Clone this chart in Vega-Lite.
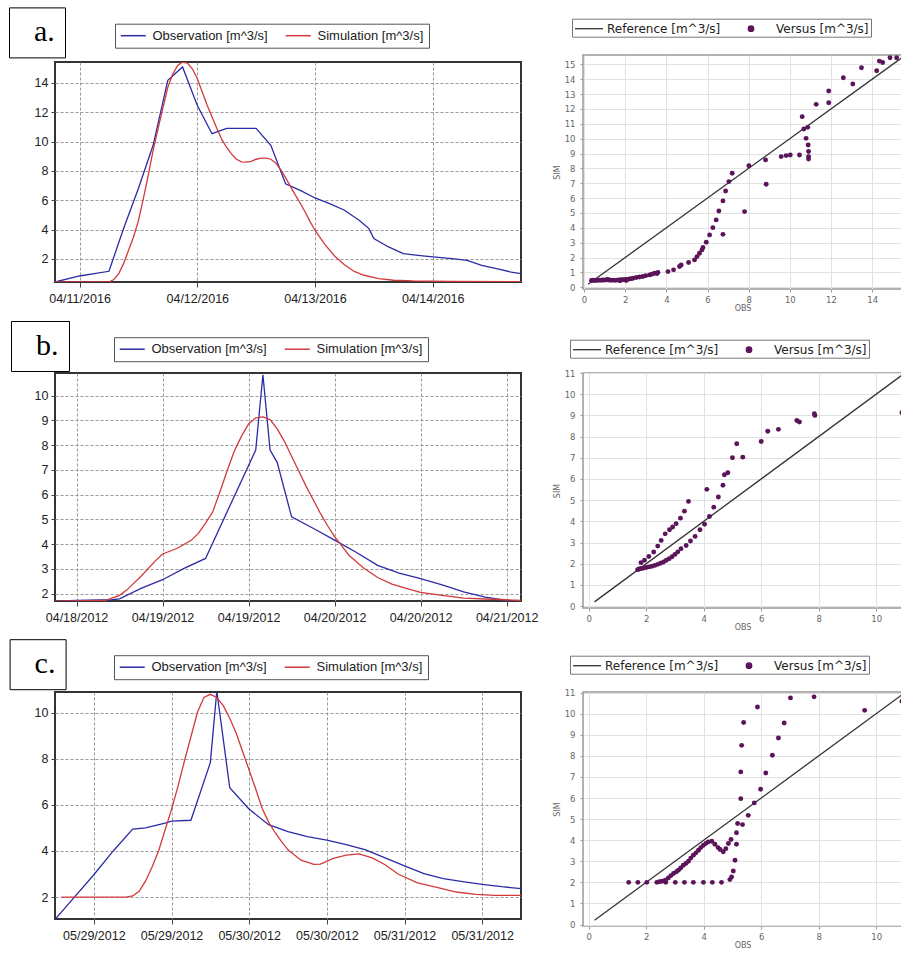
{
"$schema": "https://vega.github.io/schema/vega-lite/v6.json",
"autosize": {"type": "pad"},
"padding": {"left": 7, "top": 5, "right": 0, "bottom": 0},
"background": "white",
"config": {"view": {"stroke": null}, "font": "DejaVu Sans"},
"datasets": {
"ts_a": [
{"t":"2016-04-10T19:00","series":"Observation [m^3/s]","q":0.43},
{"t":"2016-04-11T00:00","series":"Observation [m^3/s]","q":0.84},
{"t":"2016-04-11T03:00","series":"Observation [m^3/s]","q":1.0},
{"t":"2016-04-11T06:00","series":"Observation [m^3/s]","q":1.16},
{"t":"2016-04-11T09:00","series":"Observation [m^3/s]","q":4.1},
{"t":"2016-04-11T12:00","series":"Observation [m^3/s]","q":6.8},
{"t":"2016-04-11T15:00","series":"Observation [m^3/s]","q":9.75},
{"t":"2016-04-11T18:00","series":"Observation [m^3/s]","q":14.18},
{"t":"2016-04-11T21:00","series":"Observation [m^3/s]","q":15.09},
{"t":"2016-04-12T00:00","series":"Observation [m^3/s]","q":12.48},
{"t":"2016-04-12T03:00","series":"Observation [m^3/s]","q":10.54},
{"t":"2016-04-12T06:00","series":"Observation [m^3/s]","q":10.9},
{"t":"2016-04-12T12:00","series":"Observation [m^3/s]","q":10.9},
{"t":"2016-04-12T15:00","series":"Observation [m^3/s]","q":9.75},
{"t":"2016-04-12T18:00","series":"Observation [m^3/s]","q":7.13},
{"t":"2016-04-12T21:00","series":"Observation [m^3/s]","q":6.68},
{"t":"2016-04-13T00:00","series":"Observation [m^3/s]","q":6.16},
{"t":"2016-04-13T03:00","series":"Observation [m^3/s]","q":5.77},
{"t":"2016-04-13T06:00","series":"Observation [m^3/s]","q":5.32},
{"t":"2016-04-13T09:00","series":"Observation [m^3/s]","q":4.64},
{"t":"2016-04-13T11:00","series":"Observation [m^3/s]","q":4.07},
{"t":"2016-04-13T12:00","series":"Observation [m^3/s]","q":3.39},
{"t":"2016-04-13T15:00","series":"Observation [m^3/s]","q":2.82},
{"t":"2016-04-13T18:00","series":"Observation [m^3/s]","q":2.36},
{"t":"2016-04-13T21:00","series":"Observation [m^3/s]","q":2.25},
{"t":"2016-04-14T00:00","series":"Observation [m^3/s]","q":2.14},
{"t":"2016-04-14T04:00","series":"Observation [m^3/s]","q":2.02},
{"t":"2016-04-14T07:00","series":"Observation [m^3/s]","q":1.91},
{"t":"2016-04-14T10:00","series":"Observation [m^3/s]","q":1.57},
{"t":"2016-04-14T13:00","series":"Observation [m^3/s]","q":1.34},
{"t":"2016-04-14T16:00","series":"Observation [m^3/s]","q":1.11},
{"t":"2016-04-14T18:00","series":"Observation [m^3/s]","q":1.0},
{"t":"2016-04-10T19:00","series":"Simulation [m^3/s]","q":0.43},
{"t":"2016-04-11T06:00","series":"Simulation [m^3/s]","q":0.43},
{"t":"2016-04-11T07:00","series":"Simulation [m^3/s]","q":0.6},
{"t":"2016-04-11T08:00","series":"Simulation [m^3/s]","q":1.0},
{"t":"2016-04-11T09:00","series":"Simulation [m^3/s]","q":1.7},
{"t":"2016-04-11T10:00","series":"Simulation [m^3/s]","q":2.6},
{"t":"2016-04-11T11:00","series":"Simulation [m^3/s]","q":3.5},
{"t":"2016-04-11T12:00","series":"Simulation [m^3/s]","q":4.6},
{"t":"2016-04-11T13:00","series":"Simulation [m^3/s]","q":6.1},
{"t":"2016-04-11T14:00","series":"Simulation [m^3/s]","q":7.7},
{"t":"2016-04-11T15:00","series":"Simulation [m^3/s]","q":9.4},
{"t":"2016-04-11T16:00","series":"Simulation [m^3/s]","q":10.88},
{"t":"2016-04-11T17:00","series":"Simulation [m^3/s]","q":12.3},
{"t":"2016-04-11T18:00","series":"Simulation [m^3/s]","q":13.7},
{"t":"2016-04-11T19:00","series":"Simulation [m^3/s]","q":14.6},
{"t":"2016-04-11T20:00","series":"Simulation [m^3/s]","q":15.2},
{"t":"2016-04-11T21:00","series":"Simulation [m^3/s]","q":15.43},
{"t":"2016-04-11T22:00","series":"Simulation [m^3/s]","q":15.35},
{"t":"2016-04-11T23:00","series":"Simulation [m^3/s]","q":14.97},
{"t":"2016-04-12T00:00","series":"Simulation [m^3/s]","q":14.3},
{"t":"2016-04-12T01:00","series":"Simulation [m^3/s]","q":13.4},
{"t":"2016-04-12T02:00","series":"Simulation [m^3/s]","q":12.5},
{"t":"2016-04-12T03:00","series":"Simulation [m^3/s]","q":11.7},
{"t":"2016-04-12T04:00","series":"Simulation [m^3/s]","q":10.9},
{"t":"2016-04-12T05:00","series":"Simulation [m^3/s]","q":10.15},
{"t":"2016-04-12T06:00","series":"Simulation [m^3/s]","q":9.6},
{"t":"2016-04-12T07:00","series":"Simulation [m^3/s]","q":9.15},
{"t":"2016-04-12T08:00","series":"Simulation [m^3/s]","q":8.8},
{"t":"2016-04-12T09:00","series":"Simulation [m^3/s]","q":8.62},
{"t":"2016-04-12T10:00","series":"Simulation [m^3/s]","q":8.6},
{"t":"2016-04-12T11:00","series":"Simulation [m^3/s]","q":8.65},
{"t":"2016-04-12T12:00","series":"Simulation [m^3/s]","q":8.8},
{"t":"2016-04-12T13:00","series":"Simulation [m^3/s]","q":8.87},
{"t":"2016-04-12T14:00","series":"Simulation [m^3/s]","q":8.88},
{"t":"2016-04-12T15:00","series":"Simulation [m^3/s]","q":8.8},
{"t":"2016-04-12T16:00","series":"Simulation [m^3/s]","q":8.55},
{"t":"2016-04-12T17:00","series":"Simulation [m^3/s]","q":8.1},
{"t":"2016-04-12T18:00","series":"Simulation [m^3/s]","q":7.55},
{"t":"2016-04-12T19:00","series":"Simulation [m^3/s]","q":6.95},
{"t":"2016-04-12T20:00","series":"Simulation [m^3/s]","q":6.35},
{"t":"2016-04-12T21:00","series":"Simulation [m^3/s]","q":5.8},
{"t":"2016-04-12T22:00","series":"Simulation [m^3/s]","q":5.2},
{"t":"2016-04-12T23:00","series":"Simulation [m^3/s]","q":4.55},
{"t":"2016-04-13T00:00","series":"Simulation [m^3/s]","q":3.96},
{"t":"2016-04-13T02:00","series":"Simulation [m^3/s]","q":3.0},
{"t":"2016-04-13T04:00","series":"Simulation [m^3/s]","q":2.2},
{"t":"2016-04-13T06:00","series":"Simulation [m^3/s]","q":1.6},
{"t":"2016-04-13T08:00","series":"Simulation [m^3/s]","q":1.15},
{"t":"2016-04-13T10:00","series":"Simulation [m^3/s]","q":0.89},
{"t":"2016-04-13T13:00","series":"Simulation [m^3/s]","q":0.66},
{"t":"2016-04-13T16:00","series":"Simulation [m^3/s]","q":0.55},
{"t":"2016-04-13T20:00","series":"Simulation [m^3/s]","q":0.5},
{"t":"2016-04-14T04:00","series":"Simulation [m^3/s]","q":0.47},
{"t":"2016-04-14T18:00","series":"Simulation [m^3/s]","q":0.45}
],
"ts_b": [
{"t":"2012-04-18T09:00","series":"Observation [m^3/s]","q":1.69},
{"t":"2012-04-18T12:00","series":"Observation [m^3/s]","q":1.72},
{"t":"2012-04-18T17:00","series":"Observation [m^3/s]","q":1.75},
{"t":"2012-04-18T18:00","series":"Observation [m^3/s]","q":1.79},
{"t":"2012-04-18T21:00","series":"Observation [m^3/s]","q":2.21},
{"t":"2012-04-19T00:00","series":"Observation [m^3/s]","q":2.56},
{"t":"2012-04-19T03:00","series":"Observation [m^3/s]","q":3.02},
{"t":"2012-04-19T06:00","series":"Observation [m^3/s]","q":3.42},
{"t":"2012-04-19T13:00","series":"Observation [m^3/s]","q":7.8},
{"t":"2012-04-19T14:00","series":"Observation [m^3/s]","q":10.84},
{"t":"2012-04-19T15:00","series":"Observation [m^3/s]","q":7.8},
{"t":"2012-04-19T16:00","series":"Observation [m^3/s]","q":7.29},
{"t":"2012-04-19T18:00","series":"Observation [m^3/s]","q":5.1},
{"t":"2012-04-19T21:00","series":"Observation [m^3/s]","q":4.64},
{"t":"2012-04-20T00:00","series":"Observation [m^3/s]","q":4.16},
{"t":"2012-04-20T03:00","series":"Observation [m^3/s]","q":3.67},
{"t":"2012-04-20T06:00","series":"Observation [m^3/s]","q":3.14},
{"t":"2012-04-20T09:00","series":"Observation [m^3/s]","q":2.83},
{"t":"2012-04-20T12:00","series":"Observation [m^3/s]","q":2.6},
{"t":"2012-04-20T15:00","series":"Observation [m^3/s]","q":2.35},
{"t":"2012-04-20T18:00","series":"Observation [m^3/s]","q":2.07},
{"t":"2012-04-20T21:00","series":"Observation [m^3/s]","q":1.86},
{"t":"2012-04-21T00:00","series":"Observation [m^3/s]","q":1.72},
{"t":"2012-04-21T02:00","series":"Observation [m^3/s]","q":1.69},
{"t":"2012-04-18T09:00","series":"Simulation [m^3/s]","q":1.69},
{"t":"2012-04-18T16:00","series":"Simulation [m^3/s]","q":1.72},
{"t":"2012-04-18T18:00","series":"Simulation [m^3/s]","q":1.93},
{"t":"2012-04-18T19:00","series":"Simulation [m^3/s]","q":2.14},
{"t":"2012-04-18T21:00","series":"Simulation [m^3/s]","q":2.7},
{"t":"2012-04-18T23:00","series":"Simulation [m^3/s]","q":3.32},
{"t":"2012-04-19T00:00","series":"Simulation [m^3/s]","q":3.6},
{"t":"2012-04-19T02:00","series":"Simulation [m^3/s]","q":3.82},
{"t":"2012-04-19T04:00","series":"Simulation [m^3/s]","q":4.15},
{"t":"2012-04-19T05:00","series":"Simulation [m^3/s]","q":4.43},
{"t":"2012-04-19T06:00","series":"Simulation [m^3/s]","q":4.85},
{"t":"2012-04-19T07:00","series":"Simulation [m^3/s]","q":5.3},
{"t":"2012-04-19T08:00","series":"Simulation [m^3/s]","q":6.1},
{"t":"2012-04-19T09:00","series":"Simulation [m^3/s]","q":6.95},
{"t":"2012-04-19T10:00","series":"Simulation [m^3/s]","q":7.75},
{"t":"2012-04-19T11:00","series":"Simulation [m^3/s]","q":8.35},
{"t":"2012-04-19T12:00","series":"Simulation [m^3/s]","q":8.85},
{"t":"2012-04-19T13:00","series":"Simulation [m^3/s]","q":9.1},
{"t":"2012-04-19T14:00","series":"Simulation [m^3/s]","q":9.14},
{"t":"2012-04-19T15:00","series":"Simulation [m^3/s]","q":9.03},
{"t":"2012-04-19T16:00","series":"Simulation [m^3/s]","q":8.65},
{"t":"2012-04-19T17:00","series":"Simulation [m^3/s]","q":8.15},
{"t":"2012-04-19T18:00","series":"Simulation [m^3/s]","q":7.55},
{"t":"2012-04-19T19:00","series":"Simulation [m^3/s]","q":6.95},
{"t":"2012-04-19T20:00","series":"Simulation [m^3/s]","q":6.35},
{"t":"2012-04-19T21:00","series":"Simulation [m^3/s]","q":5.8},
{"t":"2012-04-19T22:00","series":"Simulation [m^3/s]","q":5.25},
{"t":"2012-04-19T23:00","series":"Simulation [m^3/s]","q":4.75},
{"t":"2012-04-20T00:00","series":"Simulation [m^3/s]","q":4.3},
{"t":"2012-04-20T02:00","series":"Simulation [m^3/s]","q":3.55},
{"t":"2012-04-20T04:00","series":"Simulation [m^3/s]","q":3.04},
{"t":"2012-04-20T06:00","series":"Simulation [m^3/s]","q":2.65},
{"t":"2012-04-20T08:00","series":"Simulation [m^3/s]","q":2.38},
{"t":"2012-04-20T10:00","series":"Simulation [m^3/s]","q":2.21},
{"t":"2012-04-20T12:00","series":"Simulation [m^3/s]","q":2.05},
{"t":"2012-04-20T15:00","series":"Simulation [m^3/s]","q":1.93},
{"t":"2012-04-20T18:00","series":"Simulation [m^3/s]","q":1.82},
{"t":"2012-04-20T21:00","series":"Simulation [m^3/s]","q":1.78},
{"t":"2012-04-21T00:00","series":"Simulation [m^3/s]","q":1.75},
{"t":"2012-04-21T02:00","series":"Simulation [m^3/s]","q":1.72}
],
"ts_c": [
{"t":"2012-05-28T18:00","series":"Observation [m^3/s]","q":1.03},
{"t":"2012-05-28T21:00","series":"Observation [m^3/s]","q":2.0},
{"t":"2012-05-29T00:00","series":"Observation [m^3/s]","q":2.97},
{"t":"2012-05-29T03:00","series":"Observation [m^3/s]","q":4.0},
{"t":"2012-05-29T06:00","series":"Observation [m^3/s]","q":4.95},
{"t":"2012-05-29T08:00","series":"Observation [m^3/s]","q":5.0},
{"t":"2012-05-29T11:00","series":"Observation [m^3/s]","q":5.21},
{"t":"2012-05-29T12:00","series":"Observation [m^3/s]","q":5.29},
{"t":"2012-05-29T15:00","series":"Observation [m^3/s]","q":5.33},
{"t":"2012-05-29T18:00","series":"Observation [m^3/s]","q":7.83},
{"t":"2012-05-29T19:00","series":"Observation [m^3/s]","q":10.93},
{"t":"2012-05-29T21:00","series":"Observation [m^3/s]","q":6.74},
{"t":"2012-05-30T00:00","series":"Observation [m^3/s]","q":5.81},
{"t":"2012-05-30T03:00","series":"Observation [m^3/s]","q":5.14},
{"t":"2012-05-30T06:00","series":"Observation [m^3/s]","q":4.84},
{"t":"2012-05-30T09:00","series":"Observation [m^3/s]","q":4.62},
{"t":"2012-05-30T12:00","series":"Observation [m^3/s]","q":4.47},
{"t":"2012-05-30T15:00","series":"Observation [m^3/s]","q":4.27},
{"t":"2012-05-30T18:00","series":"Observation [m^3/s]","q":4.05},
{"t":"2012-05-30T21:00","series":"Observation [m^3/s]","q":3.7},
{"t":"2012-05-31T00:00","series":"Observation [m^3/s]","q":3.35},
{"t":"2012-05-31T03:00","series":"Observation [m^3/s]","q":3.02},
{"t":"2012-05-31T06:00","series":"Observation [m^3/s]","q":2.8},
{"t":"2012-05-31T09:00","series":"Observation [m^3/s]","q":2.67},
{"t":"2012-05-31T12:00","series":"Observation [m^3/s]","q":2.55},
{"t":"2012-05-31T15:00","series":"Observation [m^3/s]","q":2.45},
{"t":"2012-05-31T18:00","series":"Observation [m^3/s]","q":2.37},
{"t":"2012-05-28T19:00","series":"Simulation [m^3/s]","q":2.0},
{"t":"2012-05-29T05:00","series":"Simulation [m^3/s]","q":2.0},
{"t":"2012-05-29T06:00","series":"Simulation [m^3/s]","q":2.05},
{"t":"2012-05-29T07:00","series":"Simulation [m^3/s]","q":2.25},
{"t":"2012-05-29T08:00","series":"Simulation [m^3/s]","q":2.7},
{"t":"2012-05-29T09:00","series":"Simulation [m^3/s]","q":3.3},
{"t":"2012-05-29T10:00","series":"Simulation [m^3/s]","q":4.0},
{"t":"2012-05-29T11:00","series":"Simulation [m^3/s]","q":4.9},
{"t":"2012-05-29T12:00","series":"Simulation [m^3/s]","q":5.8},
{"t":"2012-05-29T13:00","series":"Simulation [m^3/s]","q":6.8},
{"t":"2012-05-29T14:00","series":"Simulation [m^3/s]","q":7.9},
{"t":"2012-05-29T15:00","series":"Simulation [m^3/s]","q":8.95},
{"t":"2012-05-29T16:00","series":"Simulation [m^3/s]","q":10.0},
{"t":"2012-05-29T17:00","series":"Simulation [m^3/s]","q":10.65},
{"t":"2012-05-29T18:00","series":"Simulation [m^3/s]","q":10.79},
{"t":"2012-05-29T19:00","series":"Simulation [m^3/s]","q":10.65},
{"t":"2012-05-29T20:00","series":"Simulation [m^3/s]","q":10.3},
{"t":"2012-05-29T21:00","series":"Simulation [m^3/s]","q":9.75},
{"t":"2012-05-29T22:00","series":"Simulation [m^3/s]","q":9.1},
{"t":"2012-05-29T23:00","series":"Simulation [m^3/s]","q":8.3},
{"t":"2012-05-30T00:00","series":"Simulation [m^3/s]","q":7.5},
{"t":"2012-05-30T01:00","series":"Simulation [m^3/s]","q":6.7},
{"t":"2012-05-30T02:00","series":"Simulation [m^3/s]","q":5.85},
{"t":"2012-05-30T03:00","series":"Simulation [m^3/s]","q":5.25},
{"t":"2012-05-30T04:00","series":"Simulation [m^3/s]","q":4.8},
{"t":"2012-05-30T05:00","series":"Simulation [m^3/s]","q":4.4},
{"t":"2012-05-30T06:00","series":"Simulation [m^3/s]","q":4.05},
{"t":"2012-05-30T08:00","series":"Simulation [m^3/s]","q":3.6},
{"t":"2012-05-30T10:00","series":"Simulation [m^3/s]","q":3.42},
{"t":"2012-05-30T11:00","series":"Simulation [m^3/s]","q":3.43},
{"t":"2012-05-30T13:00","series":"Simulation [m^3/s]","q":3.68},
{"t":"2012-05-30T15:00","series":"Simulation [m^3/s]","q":3.82},
{"t":"2012-05-30T17:00","series":"Simulation [m^3/s]","q":3.87},
{"t":"2012-05-30T19:00","series":"Simulation [m^3/s]","q":3.7},
{"t":"2012-05-30T21:00","series":"Simulation [m^3/s]","q":3.4},
{"t":"2012-05-30T23:00","series":"Simulation [m^3/s]","q":3.0},
{"t":"2012-05-31T02:00","series":"Simulation [m^3/s]","q":2.62},
{"t":"2012-05-31T05:00","series":"Simulation [m^3/s]","q":2.42},
{"t":"2012-05-31T08:00","series":"Simulation [m^3/s]","q":2.22},
{"t":"2012-05-31T11:00","series":"Simulation [m^3/s]","q":2.12},
{"t":"2012-05-31T14:00","series":"Simulation [m^3/s]","q":2.07},
{"t":"2012-05-31T18:00","series":"Simulation [m^3/s]","q":2.07}
],
"sc_a": [
{"obs":0.36,"sim":0.45},{"obs":0.42,"sim":0.47},{"obs":0.5,"sim":0.45},{"obs":0.58,"sim":0.47},{"obs":0.66,"sim":0.46},{"obs":0.75,"sim":0.48},{"obs":0.84,"sim":0.47},{"obs":0.93,"sim":0.49},{"obs":1.02,"sim":0.48},{"obs":1.1,"sim":0.5},{"obs":1.15,"sim":0.52},{"obs":1.2,"sim":0.49},{"obs":1.3,"sim":0.47},{"obs":1.4,"sim":0.48},{"obs":1.5,"sim":0.46},{"obs":1.6,"sim":0.48},{"obs":1.7,"sim":0.49},{"obs":1.75,"sim":0.44},{"obs":1.8,"sim":0.5},{"obs":1.9,"sim":0.5},{"obs":2.0,"sim":0.52},{"obs":2.05,"sim":0.45},{"obs":2.1,"sim":0.53},{"obs":2.2,"sim":0.55},{"obs":2.3,"sim":0.58},{"obs":2.38,"sim":0.6},
{"obs":2.54,"sim":0.65},{"obs":2.7,"sim":0.69},{"obs":2.86,"sim":0.72},{"obs":3.0,"sim":0.78},{"obs":3.19,"sim":0.83},{"obs":3.3,"sim":0.88},{"obs":3.43,"sim":0.94},{"obs":3.59,"sim":1.0},{"obs":3.55,"sim":0.92},
{"obs":4.08,"sim":1.05},{"obs":4.35,"sim":1.17},{"obs":4.64,"sim":1.39},{"obs":4.72,"sim":1.5},{"obs":5.08,"sim":1.66},{"obs":5.37,"sim":1.84},{"obs":5.49,"sim":2.06},{"obs":5.61,"sim":2.29},{"obs":5.73,"sim":2.51},{"obs":5.78,"sim":2.67},{"obs":5.94,"sim":3.03},{"obs":6.1,"sim":3.52},{"obs":6.26,"sim":4.01},{"obs":6.42,"sim":4.53},{"obs":6.55,"sim":5.13},{"obs":6.75,"sim":5.81},{"obs":6.88,"sim":6.48},{"obs":7.04,"sim":7.11},{"obs":7.2,"sim":7.67},{"obs":6.75,"sim":3.56},{"obs":7.8,"sim":5.09},{"obs":8.01,"sim":8.18},{"obs":8.82,"sim":8.57},{"obs":8.85,"sim":6.93},{"obs":9.58,"sim":8.79},{"obs":9.82,"sim":8.86},{"obs":10.02,"sim":8.9},{"obs":10.47,"sim":8.9},{"obs":10.6,"sim":11.48},{"obs":10.68,"sim":10.65},{"obs":10.79,"sim":10.02},{"obs":10.87,"sim":10.76},{"obs":10.89,"sim":9.57},{"obs":10.91,"sim":9.13},{"obs":10.91,"sim":8.79},{"obs":10.91,"sim":8.63},{"obs":11.28,"sim":12.31},{"obs":11.89,"sim":13.21},{"obs":11.89,"sim":12.42},{"obs":12.6,"sim":14.1},{"obs":13.06,"sim":13.68},{"obs":13.48,"sim":14.77},{"obs":14.22,"sim":14.57},{"obs":14.35,"sim":15.22},{"obs":14.51,"sim":15.13},{"obs":14.87,"sim":15.44},{"obs":15.19,"sim":15.44}
],
"sc_b": [
{"obs":1.7,"sim":1.72},{"obs":1.75,"sim":1.75},{"obs":1.8,"sim":1.77},{"obs":1.85,"sim":1.78},{"obs":1.9,"sim":1.79},{"obs":2.0,"sim":1.82},{"obs":2.1,"sim":1.85},{"obs":2.2,"sim":1.88},{"obs":2.3,"sim":1.92},{"obs":2.4,"sim":1.97},{"obs":2.5,"sim":2.02},{"obs":2.6,"sim":2.08},{"obs":2.7,"sim":2.16},{"obs":2.8,"sim":2.24},{"obs":2.9,"sim":2.33},{"obs":3.0,"sim":2.44},{"obs":3.1,"sim":2.56},{"obs":3.21,"sim":2.71},{"obs":3.39,"sim":2.86},{"obs":3.54,"sim":3.07},{"obs":3.7,"sim":3.29},{"obs":3.87,"sim":3.6},{"obs":4.03,"sim":3.86},{"obs":4.2,"sim":4.23},{"obs":4.35,"sim":4.67},{"obs":4.51,"sim":5.15},{"obs":4.67,"sim":5.7},{"obs":4.72,"sim":6.2},{"obs":4.84,"sim":6.29},{"obs":5.0,"sim":7.0},{"obs":5.15,"sim":7.66},{"obs":5.36,"sim":7.03},{"obs":6.0,"sim":7.77},{"obs":6.23,"sim":8.25},{"obs":6.6,"sim":8.34},{"obs":7.24,"sim":8.76},{"obs":7.33,"sim":8.69},{"obs":7.85,"sim":9.08},{"obs":7.87,"sim":9.0},{"obs":10.9,"sim":9.13},
{"obs":1.82,"sim":2.05},{"obs":1.94,"sim":2.16},{"obs":2.09,"sim":2.34},{"obs":2.26,"sim":2.55},{"obs":2.4,"sim":2.83},{"obs":2.52,"sim":3.1},{"obs":2.66,"sim":3.41},{"obs":2.81,"sim":3.6},{"obs":2.92,"sim":3.73},{"obs":3.04,"sim":3.89},{"obs":3.19,"sim":4.15},{"obs":3.33,"sim":4.48},{"obs":3.47,"sim":4.94},{"obs":4.11,"sim":5.51}
],
"sc_c": [
{"obs":1.39,"sim":2.0},{"obs":1.71,"sim":2.0},{"obs":2.02,"sim":2.0},{"obs":2.37,"sim":2.0},{"obs":2.68,"sim":2.0},{"obs":3.01,"sim":2.0},{"obs":3.33,"sim":2.0},{"obs":3.64,"sim":2.0},{"obs":3.99,"sim":2.0},{"obs":4.3,"sim":2.0},{"obs":4.62,"sim":2.0},
{"obs":2.45,"sim":2.03},{"obs":2.55,"sim":2.05},{"obs":2.66,"sim":2.1},{"obs":2.77,"sim":2.21},{"obs":2.86,"sim":2.32},{"obs":2.95,"sim":2.42},{"obs":3.05,"sim":2.5},{"obs":3.12,"sim":2.58},{"obs":3.2,"sim":2.68},{"obs":3.29,"sim":2.81},{"obs":3.38,"sim":2.9},{"obs":3.47,"sim":3.0},{"obs":3.55,"sim":3.15},{"obs":3.64,"sim":3.29},{"obs":3.73,"sim":3.4},{"obs":3.82,"sim":3.52},{"obs":3.9,"sim":3.65},{"obs":3.99,"sim":3.76},{"obs":4.08,"sim":3.85},{"obs":4.16,"sim":3.92},{"obs":4.28,"sim":3.95},{"obs":4.39,"sim":3.81},{"obs":4.5,"sim":3.65},{"obs":4.57,"sim":3.56},{"obs":4.68,"sim":3.45},{"obs":4.77,"sim":3.6},{"obs":4.86,"sim":3.84},
{"obs":4.91,"sim":2.13},{"obs":4.97,"sim":2.26},{"obs":5.03,"sim":2.54},{"obs":5.09,"sim":3.05},{"obs":5.14,"sim":3.81},{"obs":5.14,"sim":4.35},{"obs":5.18,"sim":4.79},{"obs":5.35,"sim":4.74},{"obs":4.95,"sim":4.03},{"obs":5.29,"sim":5.97},{"obs":5.29,"sim":7.24},{"obs":5.32,"sim":8.5},{"obs":5.39,"sim":9.58},{"obs":5.55,"sim":5.18},{"obs":5.76,"sim":5.77},{"obs":5.98,"sim":6.42},{"obs":6.16,"sim":7.19},{"obs":6.39,"sim":8.03},{"obs":6.6,"sim":8.85},{"obs":6.8,"sim":9.56},{"obs":5.87,"sim":10.32},{"obs":7.02,"sim":10.75},{"obs":7.84,"sim":10.8},{"obs":9.6,"sim":10.16},{"obs":10.9,"sim":10.59}
],
"ref_a": [{"obs":0.2,"sim":0.2},{"obs":15.8,"sim":15.8}],
"ref_bc": [{"obs":0.2,"sim":0.2},{"obs":11.3,"sim":11.3}]
},
"columns": 2,
"align": "each",
"bounds": "flush",
"center": true,
"spacing": {"row": 84, "column": 62},
"resolve": {"scale": {"color": "independent", "shape": "independent"}, "legend": {"color": "independent", "shape": "independent"}},
"concat": [
{
"width": 466, "height": 220,
"view": {"stroke": "#333333", "strokeWidth": 2},
"layer": [
{
"data": {"name": "ts_a"},
"mark": {"type": "line", "strokeWidth": 1.3, "clip": true},
"encoding": {
"x": {"field": "t", "type": "temporal", "scale": {"domain": [{"year": 2016, "month": 4, "date": 10, "hours": 19}, {"year": 2016, "month": 4, "date": 14, "hours": 18}]},
"axis": {"title": null, "format": "%m/%d/%Y", "values": [{"year": 2016, "month": 4, "date": 11}, {"year": 2016, "month": 4, "date": 12}, {"year": 2016, "month": 4, "date": 13}, {"year": 2016, "month": 4, "date": 14}], "labelFont": "Liberation Sans", "labelFontSize": 12.5, "labelColor": "#222222", "labelPadding": 5, "tickSize": 5, "tickColor": "#444444", "domain": false, "grid": true, "gridColor": "#999999", "gridDash": [3, 2], "labelOverlap": false}},
"y": {"field": "q", "type": "quantitative", "scale": {"domain": [0.43, 15.43], "nice": false, "zero": false},
"axis": {"title": null, "values": [2, 4, 6, 8, 10, 12, 14], "labelFont": "Liberation Sans", "labelFontSize": 12.5, "labelColor": "#222222", "labelPadding": 3, "tickSize": 4, "tickColor": "#444444", "domain": false, "grid": true, "gridColor": "#999999", "gridDash": [3, 2], "labelOverlap": false}},
"color": {"field": "series", "type": "nominal", "scale": {"domain": ["Observation [m^3/s]", "Simulation [m^3/s]"], "range": ["#2b2ba6", "#d23a3a"]},
"legend": {"orient": "none", "legendX": 60, "legendY": -38.3, "direction": "horizontal", "columns": 2, "title": null, "strokeColor": "#555555", "padding": 5, "columnPadding": 14, "labelFont": "Liberation Sans", "labelFontSize": 13, "labelColor": "#222222", "symbolType": "M-1,0H3", "symbolSize": 156, "symbolStrokeWidth": 1.5, "labelOffset": 18.5}}
}
},
{
"data": {"values": [{"panel": "a."}]},
"mark": {"type": "point", "opacity": 0},
"encoding": {"shape": {"field": "panel", "type": "nominal",
"legend": {"orient": "none", "legendX": -46, "legendY": -54.6, "title": null, "strokeColor": "black", "padding": 10, "labelFont": "Liberation Serif", "labelFontSize": 30, "labelColor": "black", "symbolSize": 4, "symbolOpacity": 0, "labelOffset": -15, "labelExpr": "datum.label + '\u00a0\u00a0\u00a0'"}}}
}
]
},
{
"width": 319, "height": 234,
"view": {"stroke": "#999999", "strokeWidth": 1.5},
"layer": [
{
"data": {"name": "ref_a"},
"mark": {"type": "line", "strokeWidth": 1.3, "clip": true},
"encoding": {
"x": {"field": "obs", "type": "quantitative", "scale": {"domain": [-0.05, 15.45], "nice": false, "zero": false},
"axis": {"title": "OBS", "titleFont": "DejaVu Sans", "titleFontSize": 8, "titleFontWeight": "normal", "titleColor": "#666666", "titlePadding": 1, "values": [0, 2, 4, 6, 8, 10, 12, 14], "labelFontSize": 8.5, "labelColor": "#666666", "labelPadding": 3, "tickSize": 3, "tickColor": "#999999", "domain": false, "grid": true, "gridColor": "#e2e2e2", "labelOverlap": false}},
"y": {"field": "sim", "type": "quantitative", "scale": {"domain": [-0.12, 15.63], "nice": false, "zero": false},
"axis": {"title": "SIM", "titleFont": "DejaVu Sans", "titleFontSize": 8, "titleFontWeight": "normal", "titleColor": "#666666", "titlePadding": 3, "values": [0, 1, 2, 3, 4, 5, 6, 7, 8, 9, 10, 11, 12, 13, 14, 15], "labelFontSize": 8.5, "labelColor": "#666666", "labelPadding": 5, "tickSize": 3, "tickColor": "#999999", "domain": false, "grid": true, "gridColor": "#e2e2e2", "labelOverlap": false}},
"color": {"datum": "Reference [m^3/s]", "type": "nominal", "scale": {"domain": ["Reference [m^3/s]", "Versus [m^3/s]"], "range": ["#333333", "#5b1459"]},
"legend": {"orient": "none", "legendX": -11, "legendY": -36.3, "direction": "horizontal", "columns": 2, "title": null, "strokeColor": "#777777", "padding": 2, "columnPadding": 22, "labelFont": "DejaVu Sans", "labelFontSize": 12, "labelColor": "#222222", "symbolType": "M-1,0H3", "symbolSize": 196, "labelOffset": 17,
"encode": {"symbols": {"update": {"shape": {"signal": "datum.value === 'Versus [m^3/s]' ? 'circle' : 'M-1,0H3'"}, "size": {"signal": "datum.value === 'Versus [m^3/s]' ? 30 : 196"}, "fill": {"signal": "datum.value === 'Versus [m^3/s]' ? '#5b1459' : 'transparent'"}, "stroke": {"signal": "datum.value === 'Versus [m^3/s]' ? 'transparent' : '#333333'"}, "strokeWidth": {"value": 1.3}, "opacity": {"value": 1}}}}}}
}
},
{
"data": {"name": "sc_a"},
"mark": {"type": "point", "filled": true, "size": 24, "opacity": 1, "clip": true},
"encoding": {
"x": {"field": "obs", "type": "quantitative",
"axis": {"title": "OBS", "titleFont": "DejaVu Sans", "titleFontSize": 8, "titleFontWeight": "normal", "titleColor": "#666666", "titlePadding": 1, "values": [0, 2, 4, 6, 8, 10, 12, 14], "labelFontSize": 8.5, "labelColor": "#666666", "labelPadding": 3, "tickSize": 3, "tickColor": "#999999", "domain": false, "grid": true, "gridColor": "#e2e2e2", "labelOverlap": false}},
"y": {"field": "sim", "type": "quantitative",
"axis": {"title": "SIM", "titleFont": "DejaVu Sans", "titleFontSize": 8, "titleFontWeight": "normal", "titleColor": "#666666", "titlePadding": 3, "values": [0, 1, 2, 3, 4, 5, 6, 7, 8, 9, 10, 11, 12, 13, 14, 15], "labelFontSize": 8.5, "labelColor": "#666666", "labelPadding": 5, "tickSize": 3, "tickColor": "#999999", "domain": false, "grid": true, "gridColor": "#e2e2e2", "labelOverlap": false}},
"color": {"datum": "Versus [m^3/s]", "type": "nominal"}
}
}
]
},
{
"width": 466, "height": 228,
"view": {"stroke": "#333333", "strokeWidth": 2},
"layer": [
{
"data": {"name": "ts_b"},
"mark": {"type": "line", "strokeWidth": 1.3, "clip": true},
"encoding": {
"x": {"field": "t", "type": "temporal", "scale": {"domain": [{"year": 2012, "month": 4, "date": 18, "hours": 9}, {"year": 2012, "month": 4, "date": 21, "hours": 2}]},
"axis": {"title": null, "format": "%m/%d/%Y", "values": [{"year": 2012, "month": 4, "date": 18, "hours": 12}, {"year": 2012, "month": 4, "date": 19}, {"year": 2012, "month": 4, "date": 19, "hours": 12}, {"year": 2012, "month": 4, "date": 20}, {"year": 2012, "month": 4, "date": 20, "hours": 12}, {"year": 2012, "month": 4, "date": 21}], "labelFont": "Liberation Sans", "labelFontSize": 12.5, "labelColor": "#222222", "labelPadding": 5, "tickSize": 5, "tickColor": "#444444", "domain": false, "grid": true, "gridColor": "#999999", "gridDash": [3, 2], "labelOverlap": false}},
"y": {"field": "q", "type": "quantitative", "scale": {"domain": [1.7, 10.91], "nice": false, "zero": false},
"axis": {"title": null, "values": [2, 3, 4, 5, 6, 7, 8, 9, 10], "labelFont": "Liberation Sans", "labelFontSize": 12.5, "labelColor": "#222222", "labelPadding": 3, "tickSize": 4, "tickColor": "#444444", "domain": false, "grid": true, "gridColor": "#999999", "gridDash": [3, 2], "labelOverlap": false}},
"color": {"field": "series", "type": "nominal", "scale": {"domain": ["Observation [m^3/s]", "Simulation [m^3/s]"], "range": ["#2b2ba6", "#d23a3a"]},
"legend": {"orient": "none", "legendX": 59, "legendY": -35.8, "direction": "horizontal", "columns": 2, "title": null, "strokeColor": "#555555", "padding": 5, "columnPadding": 14, "labelFont": "Liberation Sans", "labelFontSize": 13, "labelColor": "#222222", "symbolType": "M-1,0H3", "symbolSize": 156, "symbolStrokeWidth": 1.5, "labelOffset": 18.5}}
}
},
{
"data": {"values": [{"panel": "b."}]},
"mark": {"type": "point", "opacity": 0},
"encoding": {"shape": {"field": "panel", "type": "nominal",
"legend": {"orient": "none", "legendX": -44, "legendY": -52, "title": null, "strokeColor": "black", "padding": 10, "labelFont": "Liberation Serif", "labelFontSize": 30, "labelColor": "black", "symbolSize": 4, "symbolOpacity": 0, "labelOffset": -15, "labelExpr": "datum.label + '\u00a0\u00a0\u00a0'"}}}
}
]
},
{
"width": 319, "height": 235,
"view": {"stroke": "#999999", "strokeWidth": 1.5},
"layer": [
{
"data": {"name": "ref_bc"},
"mark": {"type": "line", "strokeWidth": 1.3, "clip": true},
"encoding": {
"x": {"field": "obs", "type": "quantitative", "scale": {"domain": [-0.2, 10.9], "nice": false, "zero": false},
"axis": {"title": "OBS", "titleFont": "DejaVu Sans", "titleFontSize": 8, "titleFontWeight": "normal", "titleColor": "#666666", "titlePadding": 1, "values": [0, 2, 4, 6, 8, 10], "labelFontSize": 8.5, "labelColor": "#666666", "labelPadding": 3, "tickSize": 3, "tickColor": "#999999", "domain": false, "grid": true, "gridColor": "#e2e2e2", "labelOverlap": false}},
"y": {"field": "sim", "type": "quantitative", "scale": {"domain": [-0.09, 11.0], "nice": false, "zero": false},
"axis": {"title": "SIM", "titleFont": "DejaVu Sans", "titleFontSize": 8, "titleFontWeight": "normal", "titleColor": "#666666", "titlePadding": 3, "values": [0, 1, 2, 3, 4, 5, 6, 7, 8, 9, 10, 11], "labelFontSize": 8.5, "labelColor": "#666666", "labelPadding": 5, "tickSize": 3, "tickColor": "#999999", "domain": false, "grid": true, "gridColor": "#e2e2e2", "labelOverlap": false}},
"color": {"datum": "Reference [m^3/s]", "type": "nominal", "scale": {"domain": ["Reference [m^3/s]", "Versus [m^3/s]"], "range": ["#333333", "#5b1459"]},
"legend": {"orient": "none", "legendX": -13, "legendY": -33.3, "direction": "horizontal", "columns": 2, "title": null, "strokeColor": "#777777", "padding": 2, "columnPadding": 22, "labelFont": "DejaVu Sans", "labelFontSize": 12, "labelColor": "#222222", "symbolType": "M-1,0H3", "symbolSize": 196, "labelOffset": 17,
"encode": {"symbols": {"update": {"shape": {"signal": "datum.value === 'Versus [m^3/s]' ? 'circle' : 'M-1,0H3'"}, "size": {"signal": "datum.value === 'Versus [m^3/s]' ? 30 : 196"}, "fill": {"signal": "datum.value === 'Versus [m^3/s]' ? '#5b1459' : 'transparent'"}, "stroke": {"signal": "datum.value === 'Versus [m^3/s]' ? 'transparent' : '#333333'"}, "strokeWidth": {"value": 1.3}, "opacity": {"value": 1}}}}}}
}
},
{
"data": {"name": "sc_b"},
"mark": {"type": "point", "filled": true, "size": 24, "opacity": 1, "clip": true},
"encoding": {
"x": {"field": "obs", "type": "quantitative",
"axis": {"title": "OBS", "titleFont": "DejaVu Sans", "titleFontSize": 8, "titleFontWeight": "normal", "titleColor": "#666666", "titlePadding": 1, "values": [0, 2, 4, 6, 8, 10], "labelFontSize": 8.5, "labelColor": "#666666", "labelPadding": 3, "tickSize": 3, "tickColor": "#999999", "domain": false, "grid": true, "gridColor": "#e2e2e2", "labelOverlap": false}},
"y": {"field": "sim", "type": "quantitative",
"axis": {"title": "SIM", "titleFont": "DejaVu Sans", "titleFontSize": 8, "titleFontWeight": "normal", "titleColor": "#666666", "titlePadding": 3, "values": [0, 1, 2, 3, 4, 5, 6, 7, 8, 9, 10, 11], "labelFontSize": 8.5, "labelColor": "#666666", "labelPadding": 5, "tickSize": 3, "tickColor": "#999999", "domain": false, "grid": true, "gridColor": "#e2e2e2", "labelOverlap": false}},
"color": {"datum": "Versus [m^3/s]", "type": "nominal"}
}
}
]
},
{
"width": 466, "height": 227,
"view": {"stroke": "#333333", "strokeWidth": 2},
"layer": [
{
"data": {"name": "ts_c"},
"mark": {"type": "line", "strokeWidth": 1.3, "clip": true},
"encoding": {
"x": {"field": "t", "type": "temporal", "scale": {"domain": [{"year": 2012, "month": 5, "date": 28, "hours": 18}, {"year": 2012, "month": 5, "date": 31, "hours": 18}]},
"axis": {"title": null, "format": "%m/%d/%Y", "values": [{"year": 2012, "month": 5, "date": 29}, {"year": 2012, "month": 5, "date": 29, "hours": 12}, {"year": 2012, "month": 5, "date": 30}, {"year": 2012, "month": 5, "date": 30, "hours": 12}, {"year": 2012, "month": 5, "date": 31}, {"year": 2012, "month": 5, "date": 31, "hours": 12}], "labelFont": "Liberation Sans", "labelFontSize": 12.5, "labelColor": "#222222", "labelPadding": 5, "tickSize": 5, "tickColor": "#444444", "domain": false, "grid": true, "gridColor": "#999999", "gridDash": [3, 2], "labelOverlap": false}},
"y": {"field": "q", "type": "quantitative", "scale": {"domain": [1.05, 10.89], "nice": false, "zero": false},
"axis": {"title": null, "values": [2, 4, 6, 8, 10], "labelFont": "Liberation Sans", "labelFontSize": 12.5, "labelColor": "#222222", "labelPadding": 3, "tickSize": 4, "tickColor": "#444444", "domain": false, "grid": true, "gridColor": "#999999", "gridDash": [3, 2], "labelOverlap": false}},
"color": {"field": "series", "type": "nominal", "scale": {"domain": ["Observation [m^3/s]", "Simulation [m^3/s]"], "range": ["#2b2ba6", "#d23a3a"]},
"legend": {"orient": "none", "legendX": 59, "legendY": -36.8, "direction": "horizontal", "columns": 2, "title": null, "strokeColor": "#555555", "padding": 5, "columnPadding": 14, "labelFont": "Liberation Sans", "labelFontSize": 13, "labelColor": "#222222", "symbolType": "M-1,0H3", "symbolSize": 156, "symbolStrokeWidth": 1.5, "labelOffset": 18.5}}
}
},
{
"data": {"values": [{"panel": "c."}]},
"mark": {"type": "point", "opacity": 0},
"encoding": {"shape": {"field": "panel", "type": "nominal",
"legend": {"orient": "none", "legendX": -45.4, "legendY": -52.8, "title": null, "strokeColor": "black", "padding": 10, "labelFont": "Liberation Serif", "labelFontSize": 30, "labelColor": "black", "symbolSize": 4, "symbolOpacity": 0, "labelOffset": -15, "labelExpr": "datum.label + '\u00a0\u00a0\u00a0'"}}}
}
]
},
{
"width": 319, "height": 234,
"view": {"stroke": "#999999", "strokeWidth": 1.5},
"layer": [
{
"data": {"name": "ref_bc"},
"mark": {"type": "line", "strokeWidth": 1.3, "clip": true},
"encoding": {
"x": {"field": "obs", "type": "quantitative", "scale": {"domain": [-0.2, 10.9], "nice": false, "zero": false},
"axis": {"title": "OBS", "titleFont": "DejaVu Sans", "titleFontSize": 8, "titleFontWeight": "normal", "titleColor": "#666666", "titlePadding": 1, "values": [0, 2, 4, 6, 8, 10], "labelFontSize": 8.5, "labelColor": "#666666", "labelPadding": 3, "tickSize": 3, "tickColor": "#999999", "domain": false, "grid": true, "gridColor": "#e2e2e2", "labelOverlap": false}},
"y": {"field": "sim", "type": "quantitative", "scale": {"domain": [-0.07, 11.03], "nice": false, "zero": false},
"axis": {"title": "SIM", "titleFont": "DejaVu Sans", "titleFontSize": 8, "titleFontWeight": "normal", "titleColor": "#666666", "titlePadding": 3, "values": [0, 1, 2, 3, 4, 5, 6, 7, 8, 9, 10, 11], "labelFontSize": 8.5, "labelColor": "#666666", "labelPadding": 5, "tickSize": 3, "tickColor": "#999999", "domain": false, "grid": true, "gridColor": "#e2e2e2", "labelOverlap": false}},
"color": {"datum": "Reference [m^3/s]", "type": "nominal", "scale": {"domain": ["Reference [m^3/s]", "Versus [m^3/s]"], "range": ["#333333", "#5b1459"]},
"legend": {"orient": "none", "legendX": -13, "legendY": -36.3, "direction": "horizontal", "columns": 2, "title": null, "strokeColor": "#777777", "padding": 2, "columnPadding": 22, "labelFont": "DejaVu Sans", "labelFontSize": 12, "labelColor": "#222222", "symbolType": "M-1,0H3", "symbolSize": 196, "labelOffset": 17,
"encode": {"symbols": {"update": {"shape": {"signal": "datum.value === 'Versus [m^3/s]' ? 'circle' : 'M-1,0H3'"}, "size": {"signal": "datum.value === 'Versus [m^3/s]' ? 30 : 196"}, "fill": {"signal": "datum.value === 'Versus [m^3/s]' ? '#5b1459' : 'transparent'"}, "stroke": {"signal": "datum.value === 'Versus [m^3/s]' ? 'transparent' : '#333333'"}, "strokeWidth": {"value": 1.3}, "opacity": {"value": 1}}}}}}
}
},
{
"data": {"name": "sc_c"},
"mark": {"type": "point", "filled": true, "size": 24, "opacity": 1, "clip": true},
"encoding": {
"x": {"field": "obs", "type": "quantitative",
"axis": {"title": "OBS", "titleFont": "DejaVu Sans", "titleFontSize": 8, "titleFontWeight": "normal", "titleColor": "#666666", "titlePadding": 1, "values": [0, 2, 4, 6, 8, 10], "labelFontSize": 8.5, "labelColor": "#666666", "labelPadding": 3, "tickSize": 3, "tickColor": "#999999", "domain": false, "grid": true, "gridColor": "#e2e2e2", "labelOverlap": false}},
"y": {"field": "sim", "type": "quantitative",
"axis": {"title": "SIM", "titleFont": "DejaVu Sans", "titleFontSize": 8, "titleFontWeight": "normal", "titleColor": "#666666", "titlePadding": 3, "values": [0, 1, 2, 3, 4, 5, 6, 7, 8, 9, 10, 11], "labelFontSize": 8.5, "labelColor": "#666666", "labelPadding": 5, "tickSize": 3, "tickColor": "#999999", "domain": false, "grid": true, "gridColor": "#e2e2e2", "labelOverlap": false}},
"color": {"datum": "Versus [m^3/s]", "type": "nominal"}
}
}
]
}
]
}
